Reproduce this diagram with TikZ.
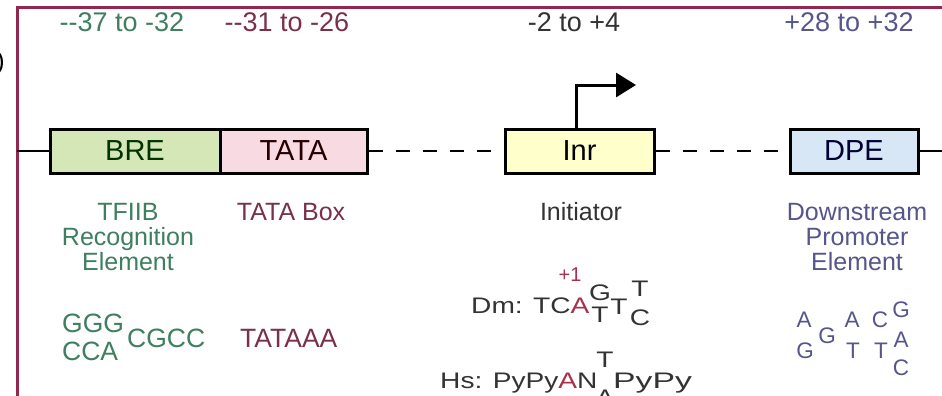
\documentclass[tikz,border=0pt]{standalone}
\usepackage{fontspec}
\setmainfont{Liberation Sans}
\usetikzlibrary{arrows.meta}
\definecolor{framec}{HTML}{92284F}
\definecolor{grn}{HTML}{3F7F5F}
\definecolor{mrn}{HTML}{7A3048}
\definecolor{gry}{HTML}{333333}
\definecolor{prp}{HTML}{56568C}
\definecolor{redA}{HTML}{A8324E}
\definecolor{brefill}{HTML}{D6E7B7}
\definecolor{tatafill}{HTML}{F8DAE3}
\definecolor{inrfill}{HTML}{FFFFCC}
\definecolor{dpefill}{HTML}{D7E7F5}
\newcommand\szbox{\fontsize{29}{29}\selectfont}
\newcommand\szrng{\fontsize{27}{27}\selectfont}
\newcommand\szlab{\fontsize{25}{25}\selectfont}
\newcommand\szseq{\fontsize{26.5}{26.5}\selectfont}
\newcommand\szsm{\fontsize{22.5}{22.5}\selectfont}
\newcommand\wide[1]{\scalebox{1.25}[1]{#1}}
\newcommand\wider[1]{\scalebox{1.5}[1]{#1}}
\begin{document}
\begin{tikzpicture}[x=1pt,y=-1pt,
  elembox/.style={draw=black, line width=3pt, minimum height=44pt, inner sep=0pt, font=\szbox},
  rng/.style={inner sep=0pt, anchor=base, font=\szrng},
  lab/.style={inner sep=0pt, anchor=base, font=\szlab},
  seq/.style={inner sep=0pt, anchor=base west, font=\szseq},
  sm/.style={inner sep=0pt, anchor=base, font=\szsm},
  dna/.style={line width=2.5pt},
  gap/.style={dna, dash pattern=on 14pt off 13pt}]
\useasboundingbox (0,0) rectangle (942,396);
\fill[white] (0,0) rectangle (942,396);
\draw[framec, line width=3pt] (17,400) -- (17,8) -- (945,8);
\node[inner sep=0pt, anchor=base east, font=\szlab] (paren) at (5,70) {)};

% range labels
\node[rng, text=grn] (r1) at (122,32) {-{}-37 to -32};
\node[rng, text=mrn] (r2) at (287,32) {-{}-31 to -26};
\node[rng, text=gry] (r3) at (574,32) {-2 to +4};
\node[rng, text=prp] (r4) at (849,32) {+28 to +32};

% boxes
\node[elembox, fill=brefill, minimum width=170pt, text=black!80!green] (bre) at (135,151) {BRE};
\node[elembox, fill=tatafill, minimum width=147pt, text=black!85!red] (tata) at (293.5,151) {TATA};
\node[elembox, fill=inrfill, minimum width=149pt, text=black] (inr) at (579.5,151) {Inr};
\node[elembox, fill=dpefill, minimum width=128pt, text=black!80!blue] (dpe) at (854,151) {DPE};

\coordinate (lend) at (17,151);
\coordinate (rend) at (945,151);
\draw[dna] (lend) -- (bre.west);
\draw[gap] (tata.east) -- (inr.west);
\draw[gap] (inr.east) -- (dpe.west);
\draw[dna] (dpe.east) -- (rend);

% transcription start arrow
\coordinate (tip) at (636,85);
\draw[line width=3pt, -{Triangle[length=20pt,width=24pt]}] ([xshift=-3.5pt]inr.north) |- (tip);

% names
\node[lab, text=grn] (b1) at (128,220) {TFIIB};
\node[lab, text=grn] (b2) at (128,245) {Recognition};
\node[lab, text=grn] (b3) at (128,270) {Element};
\node[lab, text=mrn] (t1) at (291,220) {TATA Box};
\node[lab, text=gry] (i1) at (581,220) {Initiator};
\node[lab, text=prp] (d1) at (857,220) {Downstream};
\node[lab, text=prp] (d2) at (857,245) {Promoter};
\node[lab, text=prp] (d3) at (857,270) {Element};

% BRE / TATA sequences
\node[seq, text=grn] (s1) at (62,332) {GGG};
\node[seq, text=grn] (s2) at (62,360) {CCA};
\node[seq, text=grn] (s3) at (127,347) {CGCC};
\node[seq, text=mrn] (s4) at (240,347) {TATAAA};

% Inr sequences
\node[sm, text=redA, font=\fontsize{20}{20}\selectfont] (p1) at (570,281) {+1};
\node[sm, anchor=base west, text=gry] (dm) at (471,313) {\wide{Dm: TC\textcolor{redA}{A}}};
\node[sm, text=gry] (dm1) at (600,300) {\wide{G}};
\node[sm, text=gry] (dm2) at (600,322) {\wide{T}};
\node[sm, text=gry] (dm3) at (619,314) {\wide{T}};
\node[sm, text=gry] (dm4) at (640,296) {\wide{T}};
\node[sm, text=gry] (dm5) at (640,325) {\wide{C}};
\node[sm, anchor=base west, text=gry] (hs) at (440,388) {\wide{Hs: PyPy\textcolor{redA}{A}N}};
\node[sm, text=gry] (hs1) at (605,367) {\wide{T}};
\node[sm, text=gry] (hs2) at (605,405) {\wide{A}};
\node[sm, anchor=base west, text=gry] (hs3) at (613,388) {\wider{PyPy}};

% DPE sequence
\node[sm, text=prp] (e1) at (804,327) {A};
\node[sm, text=prp] (e2) at (805,358) {G};
\node[sm, text=prp] (e3) at (827,343) {G};
\node[sm, text=prp] (e4) at (852,327) {A};
\node[sm, text=prp] (e5) at (853,358) {T};
\node[sm, text=prp] (e6) at (880,327) {C};
\node[sm, text=prp] (e7) at (881,358) {T};
\node[sm, text=prp] (e8) at (901,317) {G};
\node[sm, text=prp] (e9) at (901,347) {A};
\node[sm, text=prp] (e10) at (901,375) {C};
\end{tikzpicture}
\end{document}
